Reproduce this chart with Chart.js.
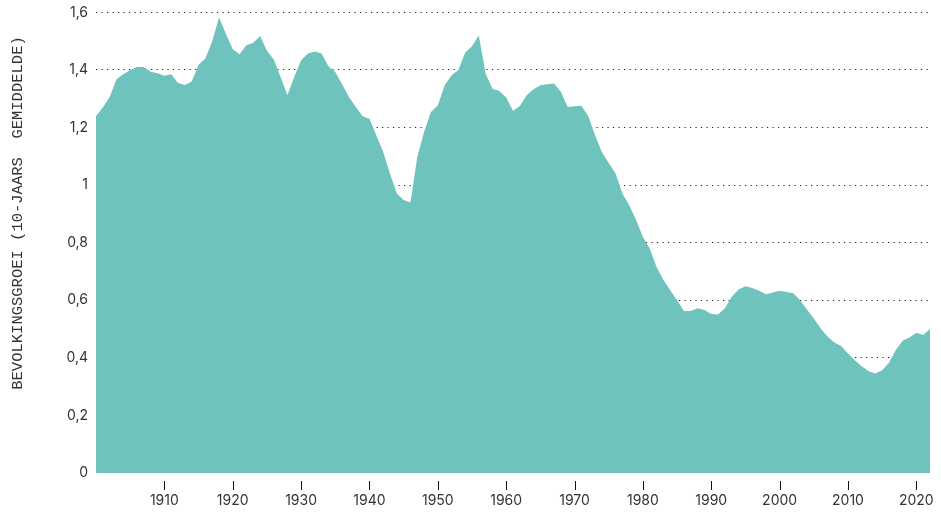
<!DOCTYPE html>
<html>
<head>
<meta charset="utf-8">
<script src="https://cdn.jsdelivr.net/npm/chart.js@4/dist/chart.umd.min.js"></script>
<style>
  html, body { margin: 0; padding: 0; background: #fff; }
  #wrap { width: 941px; height: 513px; }
</style>
</head>
<body>
<div id="wrap"><canvas id="chart"></canvas></div>
<script>
// jaren (categorieen)
const years = [
  1900, 1901, 1902, 1903, 1904, 1905, 1906, 1907, 1908, 1909,
  1910, 1911, 1912, 1913, 1914, 1915, 1916, 1917, 1918, 1919,
  1920, 1921, 1922, 1923, 1924, 1925, 1926, 1927, 1928, 1929,
  1930, 1931, 1932, 1933, 1934, 1935, 1936, 1937, 1938, 1939,
  1940, 1941, 1942, 1943, 1944, 1945, 1946, 1947, 1948, 1949,
  1950, 1951, 1952, 1953, 1954, 1955, 1956, 1957, 1958, 1959,
  1960, 1961, 1962, 1963, 1964, 1965, 1966, 1967, 1968, 1969,
  1970, 1971, 1972, 1973, 1974, 1975, 1976, 1977, 1978, 1979,
  1980, 1981, 1982, 1983, 1984, 1985, 1986, 1987, 1988, 1989,
  1990, 1991, 1992, 1993, 1994, 1995, 1996, 1997, 1998, 1999,
  2000, 2001, 2002, 2003, 2004, 2005, 2006, 2007, 2008, 2009,
  2010, 2011, 2012, 2013, 2014, 2015, 2016, 2017, 2018, 2019,
  2020, 2021, 2022
];

// bevolkingsgroei, 10-jaars gemiddelde (%)
const growth = [
  1.24, 1.27, 1.306, 1.368, 1.385, 1.40, 1.41, 1.41, 1.394, 1.389,
  1.38, 1.385, 1.355, 1.348, 1.36, 1.418, 1.44, 1.50, 1.582, 1.526,
  1.472, 1.455, 1.486, 1.495, 1.518, 1.468, 1.436, 1.376, 1.312, 1.376,
  1.434, 1.457, 1.464, 1.457, 1.413, 1.393, 1.35, 1.306, 1.271, 1.239,
  1.231, 1.173, 1.116, 1.04, 0.971, 0.948, 0.94, 1.098, 1.185, 1.254,
  1.277, 1.347, 1.381, 1.40, 1.46, 1.482, 1.52, 1.387, 1.335, 1.327,
  1.304, 1.258, 1.275, 1.312, 1.333, 1.347, 1.35, 1.353, 1.324, 1.271,
  1.274, 1.276, 1.24, 1.173, 1.115, 1.077, 1.04, 0.971, 0.93, 0.88,
  0.82, 0.78, 0.716, 0.67, 0.635, 0.60, 0.563, 0.563, 0.572, 0.566,
  0.552, 0.551, 0.572, 0.612, 0.637, 0.649, 0.643, 0.633, 0.621, 0.627,
  0.633, 0.629, 0.624, 0.60, 0.568, 0.537, 0.503, 0.474, 0.453, 0.441,
  0.415, 0.392, 0.371, 0.354, 0.346, 0.357, 0.383, 0.427, 0.459, 0.471,
  0.487, 0.479, 0.50
];

const xTicks = [1910, 1920, 1930, 1940, 1950, 1960, 1970, 1980, 1990, 2000, 2010, 2020];
const yTicks = [0, 0.2, 0.4, 0.6, 0.8, 1, 1.2, 1.4, 1.6];
const yTickLabels = ["0", "0,2", "0,4", "0,6", "0,8", "1", "1,2", "1,4", "1,6"];
const yTitle = "BEVOLKINGSGROEI (10-JAARS  GEMIDDELDE)";

const points = years.map((y, i) => ({ x: y, y: growth[i] }));

// as-titel zelf tekenen (staat iets boven het midden) + losse streepjes onder de x-as
const extrasPlugin = {
  id: "extras",
  afterDraw(chart) {
    const ctx = chart.ctx;
    const xs = chart.scales.x;
    const y0 = chart.scales.y.getPixelForValue(0);

    ctx.save();
    ctx.fillStyle = "#111";
    xTicks.forEach(v => {
      const px = Math.round(xs.getPixelForValue(v));
      ctx.fillRect(px, y0 + 8, 1, 9);
    });
    ctx.restore();

    ctx.save();
    ctx.translate(18, 213);
    ctx.rotate(-Math.PI / 2);
    ctx.font = "15.5px 'Liberation Mono'";
    ctx.fillStyle = "#333";
    ctx.textAlign = "center";
    ctx.textBaseline = "middle";
    ctx.fillText(yTitle, 0, 0);
    ctx.restore();
  }
};

new Chart(document.getElementById("chart"), {
  type: "line",
  data: {
    datasets: [{
      data: points,
      fill: "origin",
      backgroundColor: "#6ec3bc",
      borderWidth: 0,
      pointRadius: 0,
      tension: 0
    }]
  },
  options: {
    responsive: true,
    maintainAspectRatio: false,
    animation: false,
    layout: { padding: { top: 4, right: 11, left: 0, bottom: 0 } },
    plugins: { legend: { display: false }, tooltip: { enabled: false } },
    scales: {
      x: {
        type: "linear",
        min: 1900,
        max: 2022,
        afterBuildTicks: (scale) => { scale.ticks = xTicks.map(v => ({ value: v })); },
        afterFit: (scale) => { scale.height = 40; },
        border: { display: false },
        grid: {
          drawOnChartArea: false,
          drawTicks: true,
          tickLength: 16,
          tickColor: "rgba(0,0,0,0)"
        },
        ticks: {
          padding: 3,
          maxRotation: 0,
          color: "#333",
          font: { family: "Inter", size: 14 },
          callback: (v) => String(v)
        }
      },
      y: {
        min: 0,
        max: 1.6,
        afterBuildTicks: (scale) => { scale.ticks = yTicks.map(v => ({ value: v })); },
        afterFit: (scale) => { scale.width = 96; },
        border: { display: false, dash: [1.2, 4.3] },
        grid: {
          drawTicks: true,
          tickLength: 4,
          tickColor: "rgba(0,0,0,0)",
          lineWidth: 1,
          color: (c) => (c.tick && c.tick.value === 0 ? "rgba(0,0,0,0)" : "#222")
        },
        ticks: {
          padding: 4,
          color: "#333",
          font: { family: "Inter", size: 14 },
          callback: (v, i) => yTickLabels[i]
        }
      }
    }
  },
  plugins: [extrasPlugin]
});
</script>
</body>
</html>
